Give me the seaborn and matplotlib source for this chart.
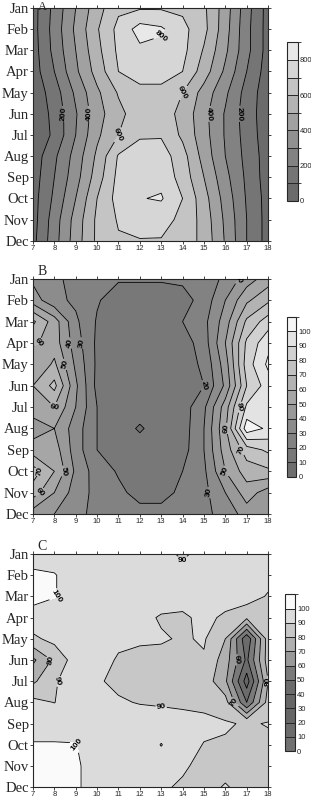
import numpy as np
import pandas as pd
import matplotlib
matplotlib.use("Agg")
import matplotlib.pyplot as plt
from matplotlib.colors import ListedColormap, BoundaryNorm
import seaborn as sns

# ---------------- data ----------------
hours = [7, 8, 9, 10, 11, 12, 13, 14, 15, 16, 17, 18]
months = ["Jan", "Feb", "Mar", "Apr", "May", "Jun", "Jul", "Aug", "Sep", "Oct", "Nov", "Dec"]

# Panel A (rows Jan..Dec, columns 7..18 h)
a_jan = [60, 230, 400, 560, 680, 690, 690, 680, 620, 450, 240, 60]
a_feb = [60, 240, 420, 590, 730, 840, 815, 730, 630, 440, 230, 60]
a_mar = [55, 230, 400, 570, 720, 780, 770, 730, 590, 420, 230, 60]
a_apr = [50, 200, 380, 540, 700, 730, 730, 700, 550, 380, 200, 50]
a_may = [30, 150, 320, 480, 610, 680, 680, 600, 460, 320, 160, 40]
a_jun = [20, 130, 290, 460, 570, 660, 650, 570, 430, 290, 150, 40]
a_jul = [20, 120, 300, 480, 600, 690, 690, 580, 440, 290, 160, 40]
a_aug = [40, 180, 340, 520, 710, 740, 750, 640, 460, 300, 170, 50]
a_sep = [50, 200, 360, 550, 730, 770, 770, 660, 500, 330, 180, 50]
a_oct = [60, 220, 400, 600, 740, 795, 810, 700, 540, 360, 190, 60]
a_nov = [60, 250, 440, 620, 710, 740, 730, 680, 560, 380, 200, 60]
a_dec = [70, 260, 450, 620, 690, 695, 695, 660, 570, 390, 200, 60]

# Panel B
b_jan = [38, 32, 27, 23, 21, 21, 21, 22, 25, 32, 45, 55]
b_feb = [45, 33, 28, 21, 15, 15, 15, 16, 24, 40, 58, 68]
b_mar = [72, 55, 32, 19, 14, 14, 14, 20, 27, 45, 72, 85]
b_apr = [62, 55, 35, 18, 14, 14, 14, 15, 25, 50, 82, 97]
b_may = [50, 62, 38, 18, 14, 14, 14, 15, 22, 45, 85, 102]
b_jun = [60, 73, 42, 17, 14, 14, 14, 15, 20, 42, 80, 95]
b_jul = [55, 60, 40, 20, 14, 14, 14, 15, 28, 55, 92, 97]
b_aug = [45, 50, 35, 20, 14, 9, 14, 15, 30, 58, 106, 98]
b_sep = [55, 55, 35, 20, 14, 14, 14, 16, 30, 55, 75, 82]
b_oct = [75, 60, 38, 25, 19, 14, 14, 20, 28, 50, 65, 68]
b_nov = [65, 50, 35, 27, 22, 17, 17, 22, 27, 40, 55, 45]
b_dec = [45, 40, 32, 28, 25, 23, 23, 25, 28, 33, 45, 50]

# Panel C
c_jan = [95, 96, 96, 95, 95, 95, 94, 88, 94, 95, 95, 95]
c_feb = [102, 100.5, 96, 95, 95, 95, 95, 95, 95, 95, 95, 94]
c_mar = [103, 100.5, 96, 95, 95, 95, 95, 95, 95, 95, 95, 89]
c_apr = [96, 94, 95, 95, 95, 93, 89, 88, 93, 88, 82, 90]
c_may = [88, 93, 95, 95, 92, 91, 91, 89, 91, 80, 42, 85]
c_jun = [68, 82, 95, 94, 89, 88, 87, 88, 89, 75, 48, 85]
c_jul = [78, 89, 95, 91, 88, 87, 87, 87, 86, 72, 35, 80]
c_aug = [93, 89.8, 95, 93, 91, 89.5, 89, 88, 87, 84, 50, 84]
c_sep = [97, 97, 97, 95, 95, 95, 94, 94, 93, 91, 89, 90.5]
c_oct = [100.5, 100.5, 100.3, 95, 95, 95, 89.7, 95, 89.5, 89, 88, 88]
c_nov = [102, 102, 101, 97, 95, 95, 94, 91, 88, 88, 88, 88]
c_dec = [102, 102, 101, 97, 95, 94, 91, 89, 88, 90.5, 88, 88]

a_levels = list(range(0, 1000, 100))
b_levels = list(range(0, 120, 10))
c_levels = list(range(0, 120, 10))
a_ticks = [0, 200, 400, 600, 800]
bc_ticks = [0, 10, 20, 30, 40, 50, 60, 70, 80, 90, 100]

grid_a = pd.DataFrame([a_jan, a_feb, a_mar, a_apr, a_may, a_jun, a_jul, a_aug, a_sep, a_oct, a_nov, a_dec],
                      index=months, columns=hours)
grid_b = pd.DataFrame([b_jan, b_feb, b_mar, b_apr, b_may, b_jun, b_jul, b_aug, b_sep, b_oct, b_nov, b_dec],
                      index=months, columns=hours)
grid_c = pd.DataFrame([c_jan, c_feb, c_mar, c_apr, c_may, c_jun, c_jul, c_aug, c_sep, c_oct, c_nov, c_dec],
                      index=months, columns=hours)

# ---------------- style ----------------
sns.set_style("ticks")
plt.rcParams["font.family"] = ["Liberation Sans", "DejaVu Sans"]

gray_a = [0.42, 0.46, 0.51, 0.57, 0.63, 0.70, 0.77, 0.84, 0.91]
gray_b = [0.43, 0.47, 0.51, 0.55, 0.60, 0.65, 0.70, 0.76, 0.82, 0.89, 0.96]
gray_c = [0.44, 0.42, 0.40, 0.40, 0.42, 0.48, 0.60, 0.69, 0.78, 0.86, 0.98]


def make_cmap(g):
    return ListedColormap([(v, v, v) for v in g])


fig = plt.figure(figsize=(3.11, 8.0), dpi=100)

panels = [
    ("A", grid_a, a_levels, gray_a, a_ticks, [200, 400, 600, 800],
     [0.106, 0.699, 0.756, 0.291], [0.923, 0.749, 0.035, 0.198]),
    ("B", grid_b, b_levels, gray_b, bc_ticks, [20, 30, 40, 50, 60, 70, 80],
     [0.106, 0.3575, 0.756, 0.294], [0.923, 0.404, 0.030, 0.200]),
    ("C", grid_c, c_levels, gray_c, bc_ticks, [60, 70, 80, 90, 100],
     [0.106, 0.016, 0.756, 0.2915], [0.917, 0.061, 0.032, 0.196]),
]

for name, grid, levels, grays, cticks, lab_levels, apos, cpos in panels:
    ax = fig.add_axes(apos)
    X, Y = np.meshgrid(grid.columns.values, np.arange(len(grid.index)))
    Z = grid.values.astype(float)
    cmap = make_cmap(grays)
    norm = BoundaryNorm(levels, cmap.N)
    cf = ax.contourf(X, Y, Z, levels=levels, cmap=cmap, norm=norm)
    cs = ax.contour(X, Y, Z, levels=levels, colors="black", linewidths=0.6)
    lab = [l for l in lab_levels if l in cs.levels]
    ax.clabel(cs, levels=lab, fmt="%d", fontsize=6, inline=True, inline_spacing=1)
    for t in cs.labelTexts:
        t.set_fontweight("bold")
    ax.set_xlim(7, 18)
    ax.set_ylim(11, 0)
    ax.set_xticks(hours)
    ax.set_xticklabels([str(h) for h in hours], fontsize=5.5)
    ax.set_yticks(range(12))
    ax.set_yticklabels(months, fontsize=10.5, family=["Liberation Serif", "DejaVu Serif"])
    ax.tick_params(axis="both", direction="out", length=2.0, width=0.6, pad=1.0,
                   top=True, right=True)
    for s in ax.spines.values():
        s.set_linewidth(0.8)
    if name == "A":
        fig.text(apos[0] + 0.02 * apos[2], 0.999, name, fontsize=9,
                 family=["Liberation Serif", "DejaVu Serif"], va="top", ha="left")
    else:
        ax.text(0.02, 1.005, name, transform=ax.transAxes, fontsize=10,
                family=["Liberation Serif", "DejaVu Serif"], va="bottom", ha="left")

    cax = fig.add_axes(cpos)
    cb = fig.colorbar(cf, cax=cax, ticks=cticks, drawedges=True)
    cb.ax.tick_params(labelsize=5.5, length=0, pad=1.5)
    cb.outline.set_linewidth(0.8)
    cb.dividers.set_linewidth(0.7)

fig.savefig("out.png", dpi=100)
